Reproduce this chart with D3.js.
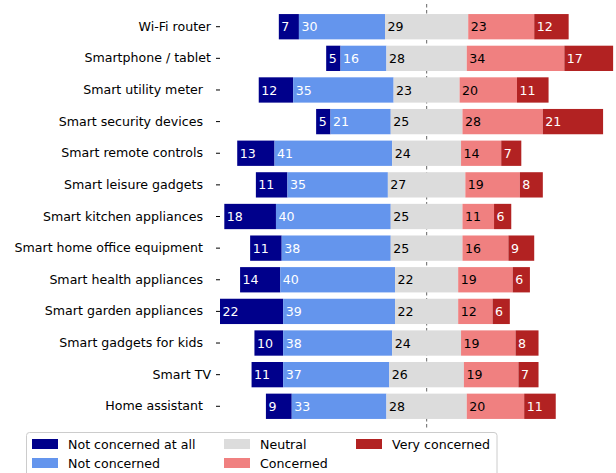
<!DOCTYPE html>
<html>
<head>
<meta charset="utf-8">
<script src="https://cdn.jsdelivr.net/npm/d3@7"></script>
<style>
  html, body { margin: 0; padding: 0; background: #fff; }
  svg { display: block; font-family: "DejaVu Sans", sans-serif; }
  text { white-space: pre; }
</style>
</head>
<body>
<svg id="chart" width="616" height="473"></svg>
<script>
const categories = ["Wi-Fi router", "Smartphone / tablet", "Smart utility meter  ", "Smart security devices  ",
  "Smart remote controls  ", "Smart leisure gadgets  ", "Smart kitchen appliances  ", "Smart home office equipment  ",
  "Smart health appliances  ", "Smart garden appliances  ", "Smart gadgets for kids  ", "Smart TV", "Home assistant  "];
const notConcernedAtAll = [7, 5, 12, 5, 13, 11, 18, 11, 14, 22, 10, 11, 9];
const notConcerned      = [30, 16, 35, 21, 41, 35, 40, 38, 40, 39, 38, 37, 33];
const neutral           = [29, 28, 23, 25, 24, 27, 25, 25, 22, 22, 24, 26, 28];
const concerned         = [23, 34, 20, 28, 14, 19, 11, 16, 19, 12, 19, 19, 20];
const veryConcerned     = [12, 17, 11, 21, 7, 8, 6, 9, 6, 6, 8, 7, 11];
const seriesNames = ["Not concerned at all", "Not concerned", "Neutral", "Concerned", "Very concerned"];
const seriesColors = ["#00008B", "#6495ED", "#DCDCDC", "#F08080", "#B22222"];
const labelColors = ["#ffffff", "#ffffff", "#000000", "#000000", "#ffffff"];
const seriesData = [notConcernedAtAll, notConcerned, neutral, concerned, veryConcerned];
const xDomain = [-72, 66];

const svg = d3.select("#chart");
const fontSize = 12.6;
const x = d3.scaleLinear().domain(xDomain).range([220, 616]);
const y = d3.scaleBand().domain(categories).range([4, 429]).paddingInner(0.2).paddingOuter(0.318);

// center dashed line (behind bars)
svg.append("line")
  .attr("x1", x(0)).attr("x2", x(0))
  .attr("y1", 4).attr("y2", 429)
  .attr("stroke", "#7f7f7f").attr("stroke-width", 1.2)
  .attr("stroke-dasharray", "3.5,2.5");

// rows
categories.forEach((c, i) => {
  let start = -(notConcernedAtAll[i] + notConcerned[i] + neutral[i] / 2);
  seriesData.forEach((s, k) => {
    const v = s[i];
    const x0 = x(start), x1 = x(start + v);
    svg.append("rect")
      .attr("x", x0).attr("y", y(c))
      .attr("width", x1 - x0).attr("height", y.bandwidth())
      .attr("fill", seriesColors[k]);
    svg.append("text")
      .attr("x", x0 + 2.5).attr("y", y(c) + y.bandwidth() / 2)
      .attr("dy", "0.36em")
      .attr("font-size", fontSize)
      .attr("fill", labelColors[k])
      .text(v);
    start += v;
  });
});

// y axis (no spine)
const yAxis = svg.append("g").attr("transform", "translate(220,0)")
  .call(d3.axisLeft(y).tickSize(4).tickPadding(5));
yAxis.select(".domain").remove();
yAxis.selectAll(".tick line").attr("stroke", "#000").attr("stroke-width", 1);
yAxis.selectAll(".tick text")
  .attr("font-size", fontSize)
  .attr("font-family", "DejaVu Sans, sans-serif")
  .attr("fill", "#000")
  .attr("xml:space", "preserve");

// legend
const lg = svg.append("g");
lg.append("rect")
  .attr("x", 26.5).attr("y", 432.5).attr("width", 470.5).attr("height", 48)
  .attr("rx", 3).attr("fill", "#fff").attr("fill-opacity", 0.8)
  .attr("stroke", "#cccccc").attr("stroke-width", 1);
const colX = [32, 224, 356];
const rowY = [439, 458];
seriesNames.forEach((n, k) => {
  const col = Math.floor(k / 2), row = k % 2;
  lg.append("rect")
    .attr("x", colX[col]).attr("y", rowY[row])
    .attr("width", 26).attr("height", 10)
    .attr("fill", seriesColors[k]);
  lg.append("text")
    .attr("x", colX[col] + 36).attr("y", rowY[row] + 5)
    .attr("dy", "0.36em")
    .attr("font-size", fontSize)
    .attr("fill", "#000")
    .text(n);
});
</script>
</body>
</html>
